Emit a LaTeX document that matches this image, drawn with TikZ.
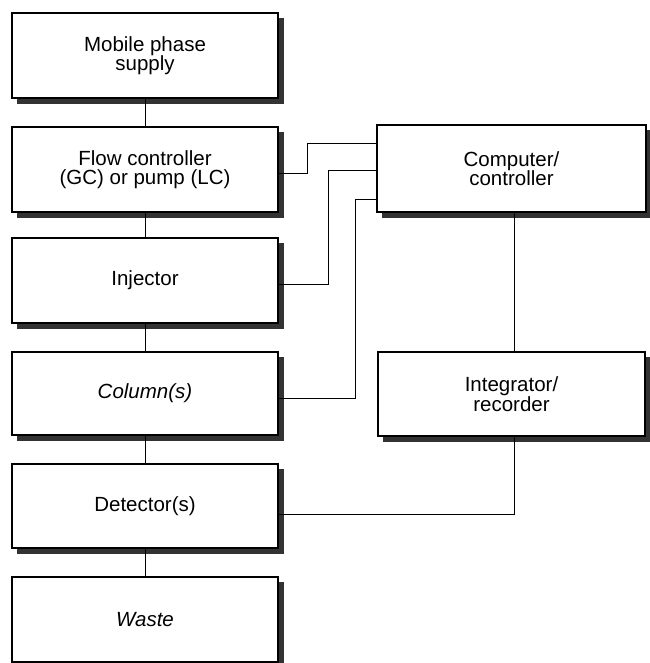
\documentclass[tikz,border=0pt]{standalone}
\usepackage{fontspec}
\setmainfont{Liberation Sans}
\usetikzlibrary{backgrounds}
\begin{document}
\begin{tikzpicture}[x=1pt,y=-1pt,
  blk/.style={draw=black, line width=1.8pt, fill=white, rectangle, inner sep=0pt,
    minimum width=266pt, minimum height=85pt, align=center,
    font=\fontsize{20.5}{19.5}\selectfont},
  shd/.style={fill=black!80, draw=none},
  wire/.style={draw=black, line width=0.9pt}]
\useasboundingbox (0,0) rectangle (649,663);
\node[blk] (sup) at (145,55.5) {Mobile phase\\supply};
\node[blk] (flow) at (145,169.5) {Flow controller\\(GC) or pump (LC)};
\node[blk] (inj) at (145,280.5) {Injector};
\node[blk, minimum height=83pt] (col) at (145,393.5) {\itshape Column(s)};
\node[blk, minimum height=84pt] (det) at (145,506) {Detector(s)};
\node[blk] (waste) at (145,619.5) {\itshape Waste};
\node[blk, minimum width=269pt, minimum height=87pt] (comp) at (511.5,168.5) {Computer/\\controller};
\node[blk, minimum width=267pt, minimum height=84pt] (integ) at (511.5,394) {Integrator/\\recorder};
\begin{scope}[on background layer]
  \foreach \n in {sup,flow,inj,col,det,waste,comp,integ}
    \fill[shd] ([xshift=5.5pt,yshift=-5.5pt]\n.south west) rectangle ([xshift=5.5pt,yshift=-5.5pt]\n.north east);
\end{scope}
\draw[wire] (sup.south) -- (flow.north);
\draw[wire] (flow.south) -- (inj.north);
\draw[wire] (inj.south) -- (col.north);
\draw[wire] (col.south) -- (det.north);
\draw[wire] (det.south) -- (waste.north);
\draw[wire] (flow.east |- 0,173) -- (307,173) -- (307,143) -- (comp.west |- 0,143);
\draw[wire] (inj.east |- 0,284) -- (328,284) -- (328,170) -- (comp.west |- 0,170);
\draw[wire] (col.east |- 0,398) -- (355,398) -- (355,199) -- (comp.west |- 0,199);
\draw[wire] (comp.south -| 514,0) -- (integ.north -| 514,0);
\draw[wire] (integ.south -| 514,0) -- (514,514) -- (det.east |- 0,514);
\end{tikzpicture}
\end{document}
